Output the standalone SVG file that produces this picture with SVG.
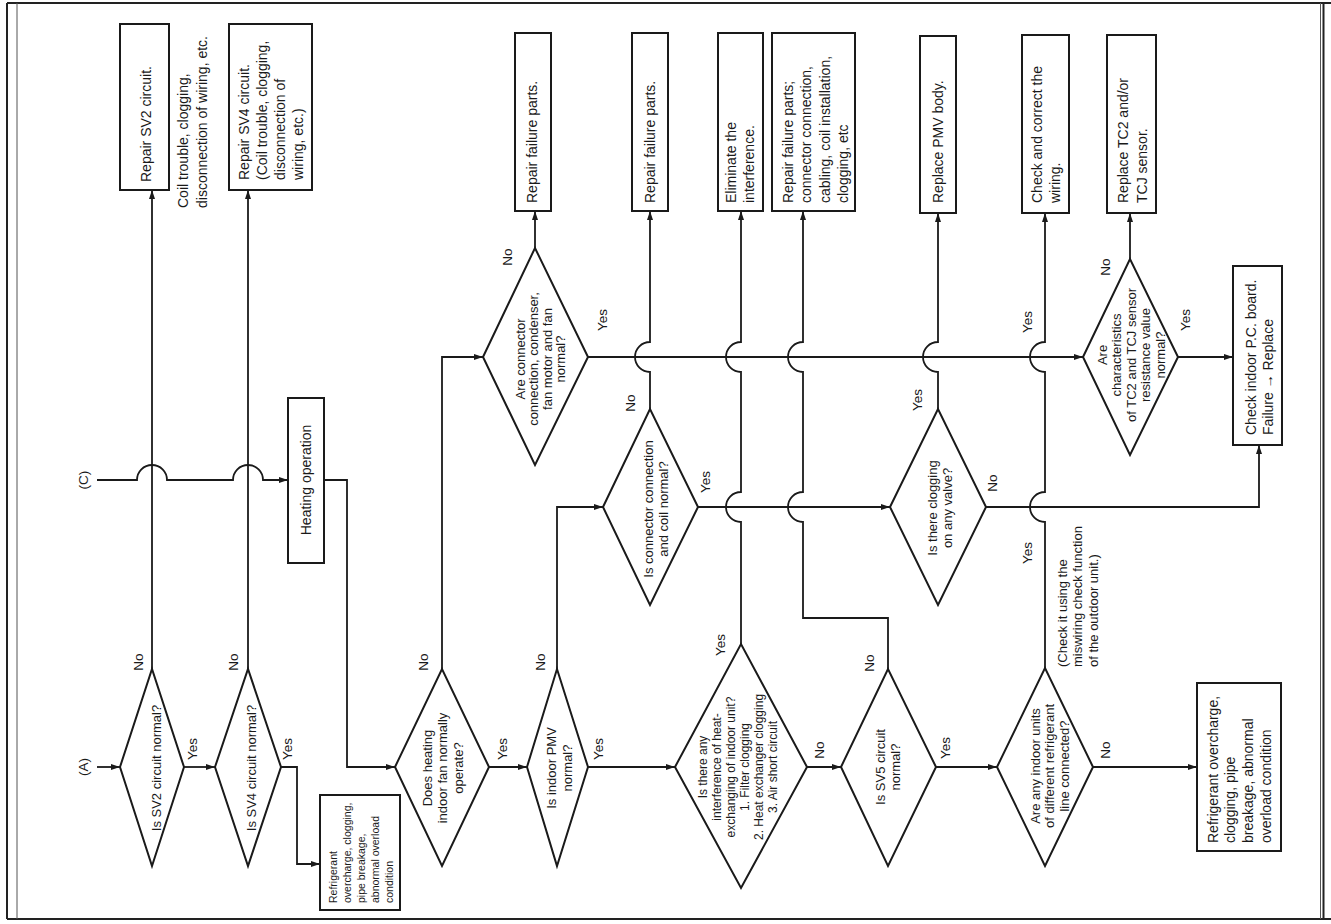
<svg xmlns="http://www.w3.org/2000/svg" width="1331" height="924" viewBox="0 0 1331 924">
<style>
  .bg{fill:#fff}
  .frame{fill:none;stroke:#222;stroke-width:2}
  .frame2{fill:none;stroke:#555;stroke-width:1}
  .box{fill:#fff;stroke:#1a1a1a;stroke-width:2}
  .dia{fill:#fff;stroke:#1a1a1a;stroke-width:2}
  .ln{fill:none;stroke:#1a1a1a;stroke-width:1.8}
  text{font-family:"Liberation Sans",Arial,Helvetica,sans-serif;fill:#1a1a1a}
  .t14{font-size:14px}
  .t13{font-size:13px}
  .t12{font-size:12px}
  .t10{font-size:10.5px}
  .lb{font-size:13.5px;text-anchor:middle}
  .mid{text-anchor:middle}
</style>
<defs>
  <marker id="ah" markerUnits="userSpaceOnUse" markerWidth="9" markerHeight="7" refX="9" refY="3.5" orient="auto">
    <path d="M0,0.5 L9,3.5 L0,6.5 z" fill="#1a1a1a"/>
  </marker>
</defs>
<rect class="bg" x="0" y="0" width="1331" height="924"/>
<g id="frame">
  <path class="frame" d="M7,3 H1331 M7,919 H1331 M7,3 V919 M1323.5,3 V919"/>
  <path class="frame2" d="M17,3 V919 M1320.5,3 V919"/>
</g>

<g id="connectors">
  <path class="ln" marker-end="url(#ah)" d="M97,767 H120"/>
  <path class="ln" marker-end="url(#ah)" d="M184,767 H215"/>
  <path class="ln" marker-end="url(#ah)" d="M281,767 H297 V864 H320"/>
  <path class="ln" marker-end="url(#ah)" d="M152,669 V190"/>
  <path class="ln" marker-end="url(#ah)" d="M248,669 V190"/>
  <path class="ln" marker-end="url(#ah)" d="M97,480 H137 A15,15 0 0 1 167,480 H233 A15,15 0 0 1 263,480 H288"/>
  <path class="ln" marker-end="url(#ah)" d="M324,480 H347 V767 H395"/>
  <path class="ln" marker-end="url(#ah)" d="M489,767 H527"/>
  <path class="ln" marker-end="url(#ah)" d="M442,669 V357 H483"/>
  <path class="ln" marker-end="url(#ah)" d="M535,248 V211"/>
  <path class="ln" marker-end="url(#ah)" d="M557,669 V507 H603"/>
  <path class="ln" marker-end="url(#ah)" d="M588,767 H675"/>
  <path class="ln" marker-end="url(#ah)" d="M650,409 V372 A15,15 0 0 1 650,342 V211"/>
  <path class="ln" marker-end="url(#ah)" d="M741,644 V522 A15,15 0 0 1 741,492 V372 A15,15 0 0 1 741,342 V211"/>
  <path class="ln" marker-end="url(#ah)" d="M807,767 H841"/>
  <path class="ln" marker-end="url(#ah)" d="M888,669 V618 H803 V522 A15,15 0 0 1 803,492 V372 A15,15 0 0 1 803,342 V211"/>
  <path class="ln" marker-end="url(#ah)" d="M936,767 H997"/>
  <path class="ln" marker-end="url(#ah)" d="M1093,767 H1197"/>
  <path class="ln" marker-end="url(#ah)" d="M1045,668 V522 A15,15 0 0 1 1045,492 V372 A15,15 0 0 1 1045,342 V213"/>
  <path class="ln" marker-end="url(#ah)" d="M588,357 H1083"/>
  <path class="ln" marker-end="url(#ah)" d="M698,507 H890"/>
  <path class="ln" marker-end="url(#ah)" d="M938,409 V372 A15,15 0 0 1 938,342 V213"/>
  <path class="ln" marker-end="url(#ah)" d="M986,507 H1259 V445"/>
  <path class="ln" marker-end="url(#ah)" d="M1130,259 V213"/>
  <path class="ln" marker-end="url(#ah)" d="M1178,357 H1233"/>
</g>

<g id="labels">
  <text class="lb" transform="translate(88,480) rotate(-90)">(C)</text>
  <text class="lb" transform="translate(88,767) rotate(-90)">(A)</text>
  <text class="lb" transform="translate(143,662) rotate(-90)">No</text>
  <text class="lb" transform="translate(197,749) rotate(-90)">Yes</text>
  <text class="lb" transform="translate(238,662) rotate(-90)">No</text>
  <text class="lb" transform="translate(292,749) rotate(-90)">Yes</text>
  <text class="lb" transform="translate(428,662) rotate(-90)">No</text>
  <text class="lb" transform="translate(507,749) rotate(-90)">Yes</text>
  <text class="lb" transform="translate(545,662) rotate(-90)">No</text>
  <text class="lb" transform="translate(603,749) rotate(-90)">Yes</text>
  <text class="lb" transform="translate(512,257) rotate(-90)">No</text>
  <text class="lb" transform="translate(607,320) rotate(-90)">Yes</text>
  <text class="lb" transform="translate(635,403) rotate(-90)">No</text>
  <text class="lb" transform="translate(710,482) rotate(-90)">Yes</text>
  <text class="lb" transform="translate(725,645) rotate(-90)">Yes</text>
  <text class="lb" transform="translate(824,750) rotate(-90)">No</text>
  <text class="lb" transform="translate(874,663) rotate(-90)">No</text>
  <text class="lb" transform="translate(950,748) rotate(-90)">Yes</text>
  <text class="lb" transform="translate(922,400) rotate(-90)">Yes</text>
  <text class="lb" transform="translate(997,483) rotate(-90)">No</text>
  <text class="lb" transform="translate(1032,553) rotate(-90)">Yes</text>
  <text class="lb" transform="translate(1032,322) rotate(-90)">Yes</text>
  <text class="lb" transform="translate(1110,750) rotate(-90)">No</text>
  <text class="lb" transform="translate(1110,267) rotate(-90)">No</text>
  <text class="lb" transform="translate(1190,320) rotate(-90)">Yes</text>
  <text class="t14" transform="translate(187.5,208) rotate(-90)"><tspan x="0" y="0">Coil trouble, clogging,</tspan><tspan x="0" dy="19">disconnection of wiring, etc.</tspan></text>
  <text class="t13" transform="translate(1066.5,667) rotate(-90)"><tspan x="0" y="0">(Check it using the</tspan><tspan x="0" dy="15.5">miswiring check function</tspan><tspan x="0" dy="15.5">of the outdoor unit.)</tspan></text>
</g>

<g id="n_sv2_repair">
  <rect class="box" x="120" y="24" width="49" height="166"/>
  <text class="t14" transform="translate(150.5,182) rotate(-90)">Repair SV2 circuit.</text>
</g>
<g id="n_sv4_repair">
  <rect class="box" x="229" y="24" width="83" height="166"/>
  <text class="t14" transform="translate(248.5,180) rotate(-90)"><tspan x="0" y="0">Repair SV4 circuit.</tspan><tspan x="0" dy="18">(Coil trouble, clogging,</tspan><tspan x="0" dy="18">disconnection of</tspan><tspan x="0" dy="18">wiring, etc.)</tspan></text>
</g>
<g id="n_sv2">
  <polygon class="dia" points="120,767 152,669 184,767 152,866"/>
  <text class="t13 mid" transform="translate(160.5,768) rotate(-90)">Is SV2 circuit normal?</text>
</g>
<g id="n_sv4">
  <polygon class="dia" points="215,767 248,669 281,767 248,866"/>
  <text class="t13 mid" transform="translate(255.5,768) rotate(-90)">Is SV4 circuit normal?</text>
</g>
<g id="n_refrig1">
  <rect class="box" x="320" y="795" width="80" height="115"/>
  <text class="t10" transform="translate(336.5,903) rotate(-90)"><tspan x="0" y="0">Refrigerant</tspan><tspan x="0" dy="14">overcharge, clogging,</tspan><tspan x="0" dy="14">pipe breakage,</tspan><tspan x="0" dy="14">abnormal overload</tspan><tspan x="0" dy="14">condition</tspan></text>
</g>
<g id="n_heating">
  <rect class="box" x="288" y="398" width="36" height="165"/>
  <text class="t14 mid" transform="translate(310.5,480) rotate(-90)">Heating operation</text>
</g>
<g id="n_fan">
  <polygon class="dia" points="395,767 442,669 489,767 442,866"/>
  <text class="t13 mid" transform="translate(431.5,768) rotate(-90)"><tspan x="0" y="0">Does heating</tspan><tspan x="0" dy="15.5">indoor fan normally</tspan><tspan x="0" dy="15.5">operate?</tspan></text>
</g>
<g id="n_pmv">
  <polygon class="dia" points="527,767 557,669 588,767 557,866"/>
  <text class="t13 mid" transform="translate(556,768) rotate(-90)"><tspan x="0" y="0">Is indoor PMV</tspan><tspan x="0" dy="15.5">normal?</tspan></text>
</g>
<g id="n_conn">
  <polygon class="dia" points="483,357 535,248 588,357 535,465"/>
  <text class="t13 mid" transform="translate(524.5,359) rotate(-90)"><tspan x="0" y="0">Are connector</tspan><tspan x="0" dy="13.5">connection, condenser,</tspan><tspan x="0" dy="13.5">fan motor and fan</tspan><tspan x="0" dy="13.5">normal?</tspan></text>
</g>
<g id="n_rep1">
  <rect class="box" x="515" y="33" width="36" height="178"/>
  <text class="t14" transform="translate(536.5,203) rotate(-90)">Repair failure parts.</text>
</g>
<g id="n_coil">
  <polygon class="dia" points="603,507 650,409 698,507 650,605"/>
  <text class="t13 mid" transform="translate(652.5,509) rotate(-90)"><tspan x="0" y="0">Is connector connection</tspan><tspan x="0" dy="15">and coil normal?</tspan></text>
</g>
<g id="n_rep2">
  <rect class="box" x="632" y="33" width="36" height="178"/>
  <text class="t14" transform="translate(654.5,203) rotate(-90)">Repair failure parts.</text>
</g>
<g id="n_interf">
  <polygon class="dia" points="675,767 741,644 807,767 741,888"/>
  <text class="t12 mid" transform="translate(707,767) rotate(-90)"><tspan x="0" y="0">Is there any</tspan><tspan x="0" dy="14">interference of heat-</tspan><tspan x="0" dy="14">exchanging of indoor unit?</tspan><tspan x="0" dy="14">1. Filter clogging</tspan><tspan x="0" dy="14">2. Heat exchanger clogging</tspan><tspan x="0" dy="14">3. Air short circuit</tspan></text>
</g>
<g id="n_elim">
  <rect class="box" x="718" y="33" width="45" height="178"/>
  <text class="t14" transform="translate(736,203) rotate(-90)"><tspan x="0" y="0">Eliminate the</tspan><tspan x="0" dy="18">interference.</tspan></text>
</g>
<g id="n_rep3">
  <rect class="box" x="772" y="33" width="83" height="178"/>
  <text class="t14" transform="translate(792.5,203) rotate(-90)"><tspan x="0" y="0">Repair failure parts;</tspan><tspan x="0" dy="18.5">connector connection,</tspan><tspan x="0" dy="18.5">cabling, coil installation,</tspan><tspan x="0" dy="18.5">clogging, etc</tspan></text>
</g>
<g id="n_sv5">
  <polygon class="dia" points="841,767 888,669 936,767 888,866"/>
  <text class="t13 mid" transform="translate(884.5,767) rotate(-90)"><tspan x="0" y="0">Is SV5 circuit</tspan><tspan x="0" dy="15">normal?</tspan></text>
</g>
<g id="n_clog">
  <polygon class="dia" points="890,507 938,409 986,507 938,605"/>
  <text class="t13 mid" transform="translate(936.5,508) rotate(-90)"><tspan x="0" y="0">Is there clogging</tspan><tspan x="0" dy="15">on any valve?</tspan></text>
</g>
<g id="n_pmvbody">
  <rect class="box" x="920" y="36" width="36" height="177"/>
  <text class="t14" transform="translate(942.5,203) rotate(-90)">Replace PMV body.</text>
</g>
<g id="n_any">
  <polygon class="dia" points="997,767 1045,668 1093,767 1045,866"/>
  <text class="t13 mid" transform="translate(1039.5,766) rotate(-90)"><tspan x="0" y="0">Are any indoor units</tspan><tspan x="0" dy="14.5">of different refrigerant</tspan><tspan x="0" dy="14.5">line connected?</tspan></text>
</g>
<g id="n_wiring">
  <rect class="box" x="1022" y="35" width="47" height="178"/>
  <text class="t14" transform="translate(1041.5,203) rotate(-90)"><tspan x="0" y="0">Check and correct the</tspan><tspan x="0" dy="18">wiring.</tspan></text>
</g>
<g id="n_tc2">
  <polygon class="dia" points="1083,357 1130,259 1178,357 1130,455"/>
  <text class="t13 mid" transform="translate(1106.5,355) rotate(-90)"><tspan x="0" y="0">Are</tspan><tspan x="0" dy="14.5">characteristics</tspan><tspan x="0" dy="14.5">of TC2 and TCJ sensor</tspan><tspan x="0" dy="14.5">resistance value</tspan><tspan x="0" dy="14.5">normal?</tspan></text>
</g>
<g id="n_tc2rep">
  <rect class="box" x="1107" y="35" width="49" height="178"/>
  <text class="t14" transform="translate(1127.5,203) rotate(-90)"><tspan x="0" y="0">Replace TC2 and/or</tspan><tspan x="0" dy="19">TCJ sensor.</tspan></text>
</g>
<g id="n_pcb">
  <rect class="box" x="1233" y="266" width="49" height="179"/>
  <text class="t14" transform="translate(1255.5,435) rotate(-90)"><tspan x="0" y="0">Check indoor P.C. board.</tspan><tspan x="0" dy="17">Failure → Replace</tspan></text>
</g>
<g id="n_refrig2">
  <rect class="box" x="1197" y="683" width="84" height="168"/>
  <text class="t14" transform="translate(1217.5,843) rotate(-90)"><tspan x="0" y="0">Refrigerant overcharge,</tspan><tspan x="0" dy="17.7">clogging, pipe</tspan><tspan x="0" dy="17.7">breakage, abnormal</tspan><tspan x="0" dy="17.7">overload condition</tspan></text>
</g>
</svg>
